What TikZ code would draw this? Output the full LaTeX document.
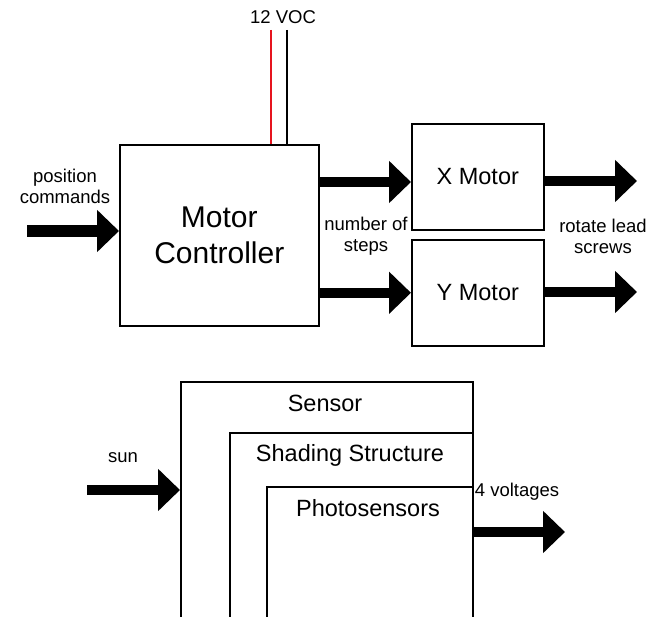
\documentclass[tikz,border=0pt]{standalone}
\usepackage{fontspec}
\setmainfont{Liberation Sans}
\usetikzlibrary{arrows.meta}
\definecolor{wirered}{RGB}{230,20,30}
\begin{document}
\begin{tikzpicture}[x=1pt,y=-1pt,
  box/.style={draw, line width=1.6pt, inner sep=0pt, anchor=north west},
  fat/.style={line width=10pt, -{Triangle[width=41pt,length=22pt]}},
  small/.style={font=\fontsize{18.5}{21}\selectfont, align=center, inner sep=0pt},
  mid/.style={font=\fontsize{23.5}{27}\selectfont, align=center, inner sep=0pt},
  wire/.style={line width=1.8pt}]
\useasboundingbox (0,0) rectangle (647,617);
\clip (0,0) rectangle (647,617);
% top part
\node[box, minimum width=199pt, minimum height=181pt, align=center,
      font=\fontsize{30}{36}\selectfont] (ctrl) at (119,144) {Motor\\Controller};
\node[box, minimum width=132pt, minimum height=106pt, mid] (xm) at (411,123) {X Motor};
\node[box, minimum width=132pt, minimum height=106pt, mid] (ym) at (411,239) {Y Motor};

\coordinate (w1) at (271,30);
\coordinate (w2) at (287,30);
\draw[wire, wirered] (w1) -- (w1 |- ctrl.north);
\draw[wire, black] (w2) -- (w2 |- ctrl.north);
\node[small] (voc) at (283,17) {12 VOC};

\coordinate (pin) at (27,231);
\draw[fat, line width=12pt] (pin) -- (pin -| ctrl.west);
\node[small] (poslbl) at (65,186.5) {position\\commands};

\coordinate (a1) at (0,182);
\draw[fat] (ctrl.east |- a1) -- (xm.west |- a1);
\draw[fat] (ctrl.east |- ym.west) -- (ym.west);
\node[small] (steps) at (366,236.5) {number of\\steps};

\coordinate (o1) at (637,181);
\coordinate (o2) at (637,292);
\draw[fat] (xm.east |- o1) -- (o1);
\draw[fat] (ym.east |- o2) -- (o2);
\node[small] (lead) at (603,236.5) {rotate lead\\screws};

% bottom part
\node[box, minimum width=292pt, minimum height=260pt] (sensor) at (180,381) {};
\node[box, minimum width=243pt, minimum height=210pt] (shade) at (229,432) {};
\node[box, minimum width=206pt, minimum height=160pt] (photo) at (266,486) {};
\node[mid] (sensorlbl) at (325,403) {Sensor};
\node[mid] (shadelbl) at (350,455) {Shading Structure};
\node[mid] (photolbl) at (368,508) {Photosensors};

\coordinate (sunin) at (87,490);
\draw[fat] (sunin) -- (sunin -| sensor.west);
\node[small] (sun) at (123,458) {sun};

\coordinate (vout) at (565,532);
\draw[fat] (vout -| photo.east) -- (vout);
\node[small] (volt) at (517,492) {4 voltages};
\end{tikzpicture}
\end{document}
